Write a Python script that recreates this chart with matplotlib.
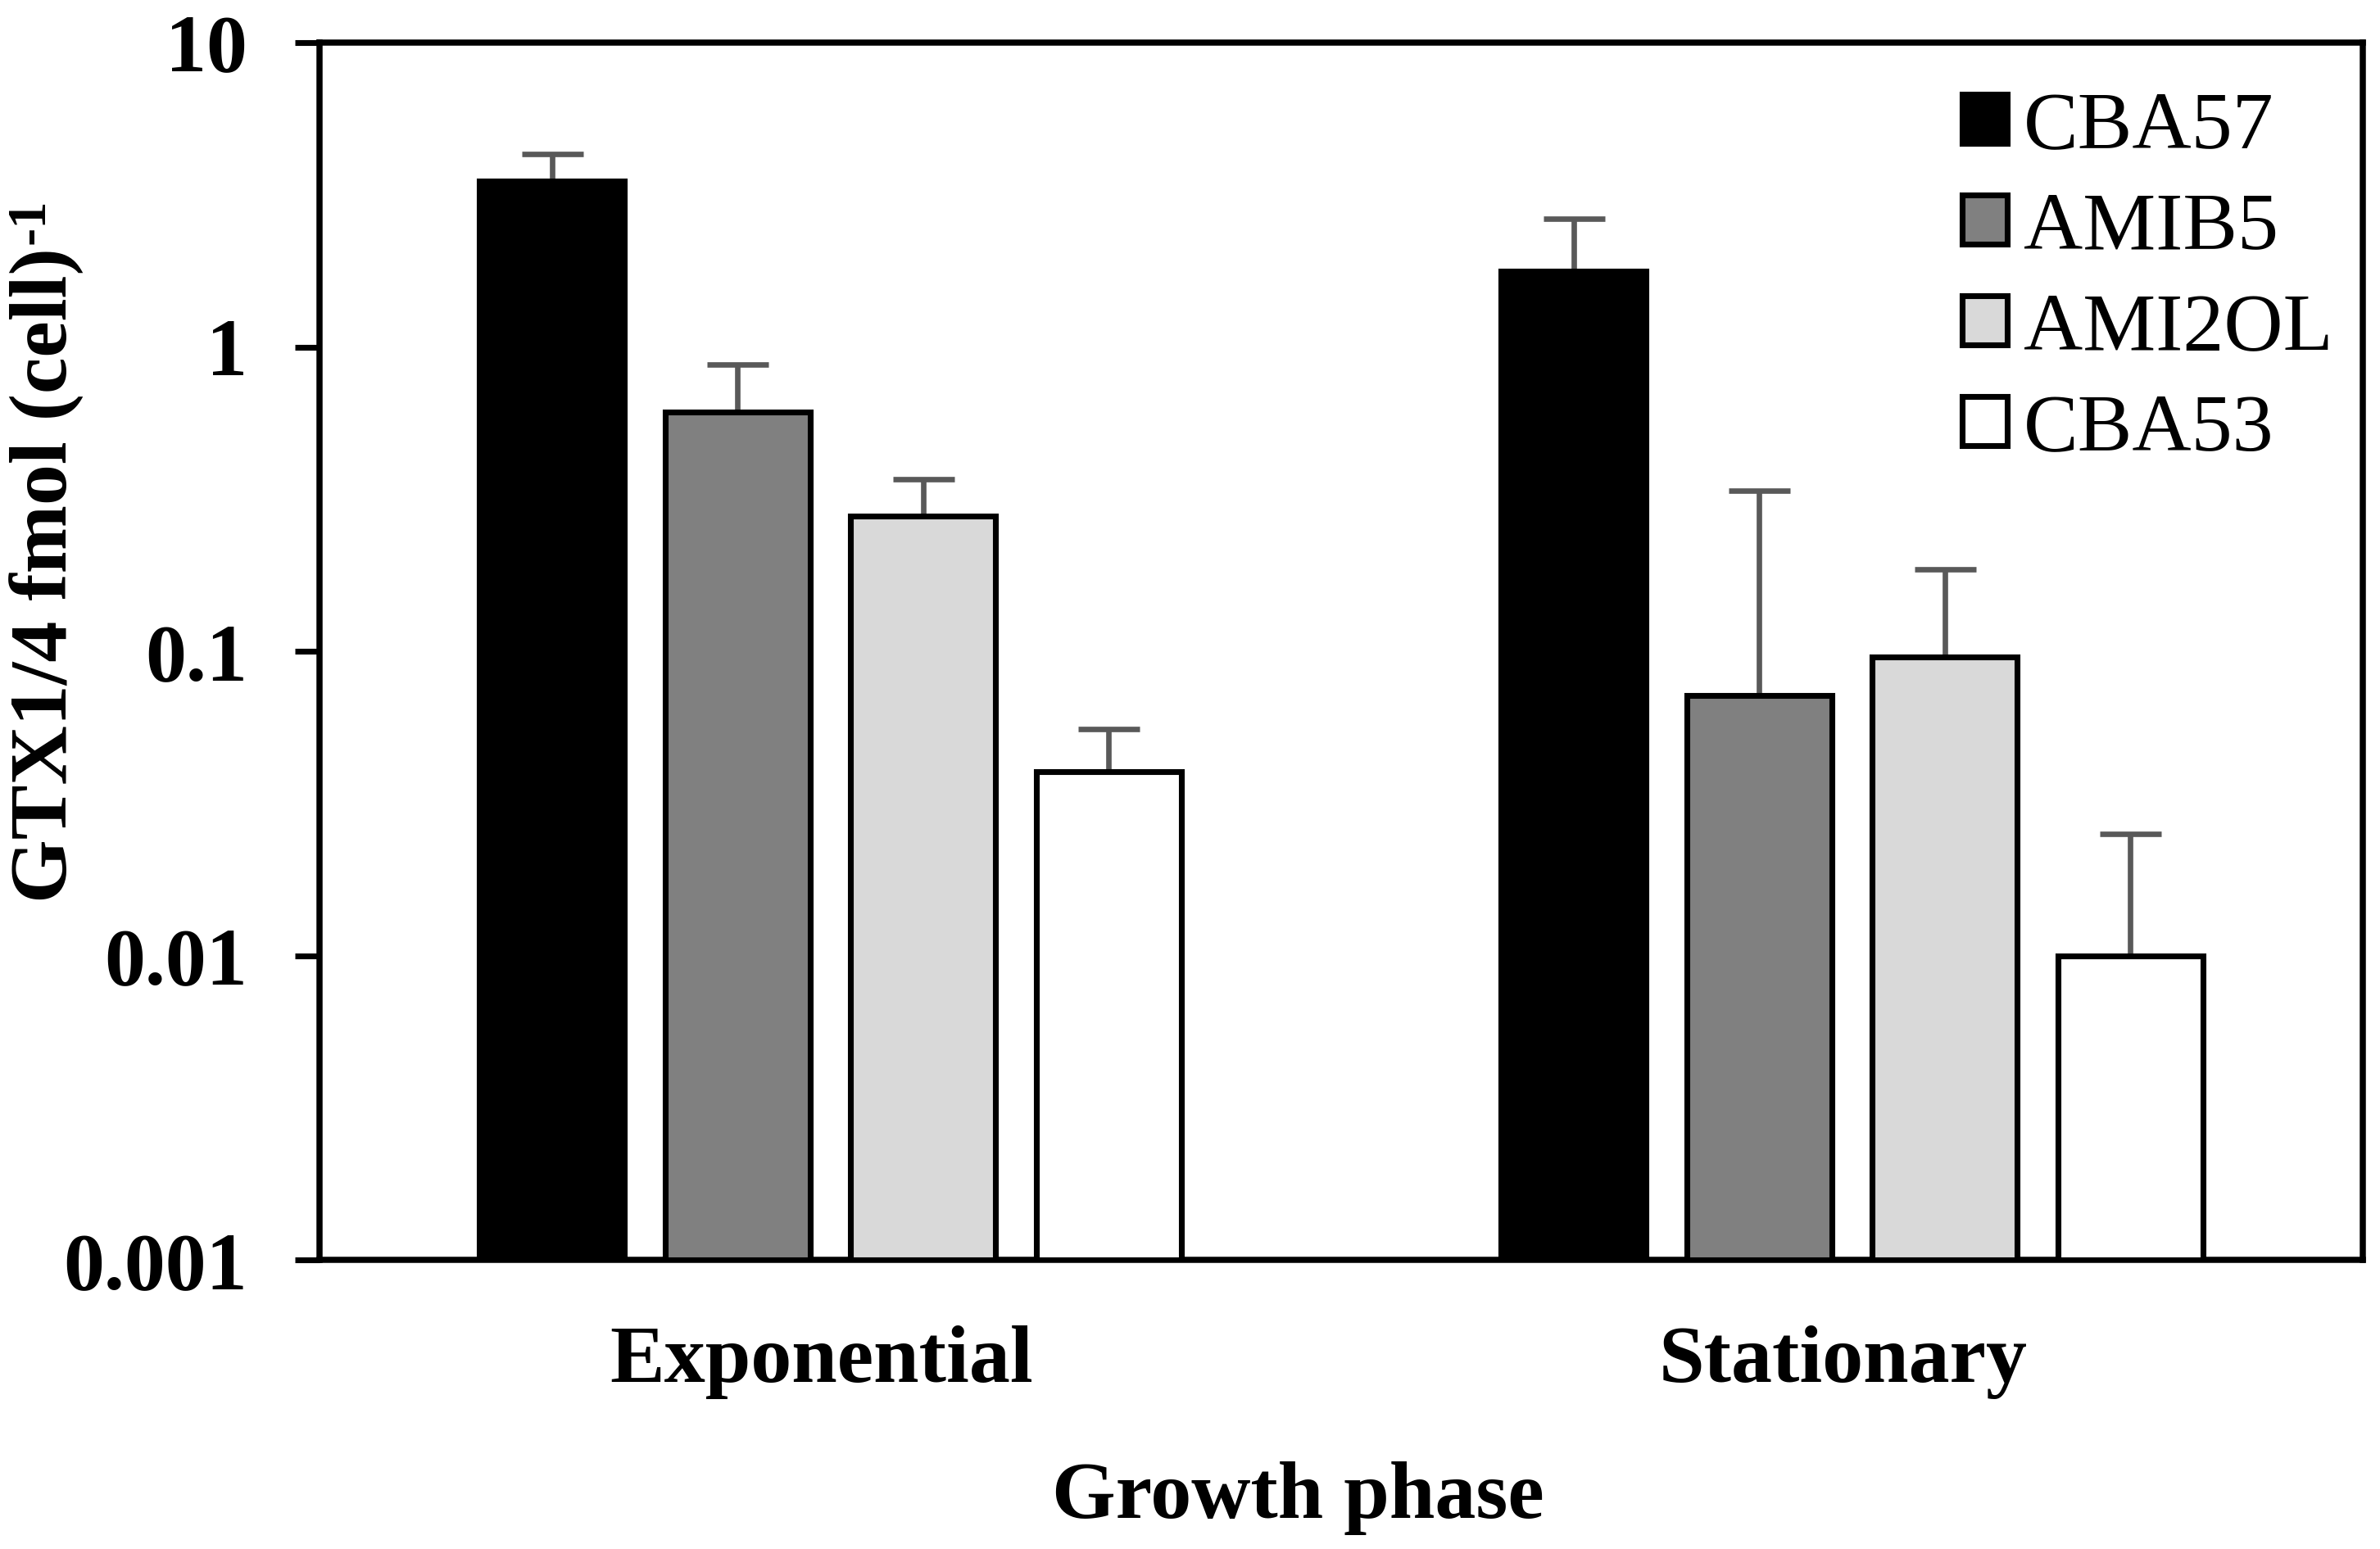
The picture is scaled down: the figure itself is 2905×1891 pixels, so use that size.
import numpy as np
import matplotlib
matplotlib.use("Agg")
import matplotlib.pyplot as plt
from matplotlib.ticker import FixedLocator, FixedFormatter, NullLocator
from matplotlib.transforms import ScaledTranslation

# data
phases = ["Exponential", "Stationary"]
strains = ["CBA57", "AMIB5", "AMI2OL", "CBA53"]
exp_vals = [3.52, 0.611, 0.278, 0.0403]
exp_err = [0.79, 0.265, 0.09, 0.0153]
stat_vals = [1.78, 0.0718, 0.0962, 0.0100]
stat_err = [0.86, 0.266, 0.090, 0.0151]
colors = ["#000000", "#808080", "#d9d9d9", "#ffffff"]
ytick_vals = [0.001, 0.01, 0.1, 1, 10]
ytick_labels = ["0.001", "0.01", "0.1", "1", "10"]

plt.rcParams["font.family"] = ["Liberation Serif", "DejaVu Serif"]

W, H = 2905, 1891
fig = plt.figure(figsize=(W / 300, H / 300), dpi=300)
ax = fig.add_axes([0.13425, 0.18641, 0.85852, 0.78609])

ybase = 0.001
x = np.arange(len(phases))
width = 0.142
step = 0.1816
for i, s in enumerate(strains):
    vals = np.array([exp_vals[i], stat_vals[i]])
    errs = np.array([exp_err[i], stat_err[i]])
    pos = x + (i - 1.5) * step
    ax.errorbar(pos, vals, yerr=[np.zeros(2), errs], fmt="none", ecolor="#595959",
                elinewidth=1.6, capsize=9, capthick=1.6, zorder=2)
    ax.bar(pos, vals - ybase, bottom=ybase, width=width, color=colors[i],
           edgecolor="black", linewidth=1.7, label=s, zorder=3)

ax.set_yscale("log")
ax.set_ylim(0.001, 10)
ax.set_xlim(-0.5, 1.5)
ax.yaxis.set_major_locator(FixedLocator(ytick_vals))
ax.yaxis.set_major_formatter(FixedFormatter(ytick_labels))
ax.yaxis.set_minor_locator(NullLocator())
ax.set_xticks(x)
ax.set_xticklabels(phases, fontsize=24, fontweight="bold")
ax.tick_params(axis="x", length=0, pad=19)
ax.tick_params(axis="y", direction="out", length=7.2, width=1.7, pad=14, labelsize=24)
for lab in ax.get_yticklabels():
    lab.set_fontweight("bold")
shift = ScaledTranslation(-11 / 300, 0, fig.dpi_scale_trans)
for lab in ax.get_xticklabels():
    lab.set_transform(lab.get_transform() + shift)
for sp in ax.spines.values():
    sp.set_linewidth(1.8)
    sp.set_color("black")

ax.set_xlabel("Growth phase", fontsize=24, fontweight="bold")
ax.xaxis.set_label_coords(0.479, -0.165)

# y label with a small raised "-1"
ylab = fig.text(82 / W, 1 - 702 / H, "GTX1/4 fmol (cell)", rotation=90,
                rotation_mode="anchor", ha="center", va="baseline",
                fontsize=24, fontweight="bold")
fig.canvas.draw()
bb = ylab.get_window_extent()
fig.text(53 / W, (bb.y1 + 4) / H, "-1", rotation=90, rotation_mode="anchor",
         ha="left", va="baseline", fontsize=16, fontweight="bold")

leg = ax.legend(loc="upper left", bbox_to_anchor=(0.804, 0.960), frameon=False,
                fontsize=24, handlelength=0.55, handleheight=0.55, handletextpad=0.2,
                labelspacing=0.33, borderpad=0, borderaxespad=0)

fig.savefig("out.png", dpi=300)
